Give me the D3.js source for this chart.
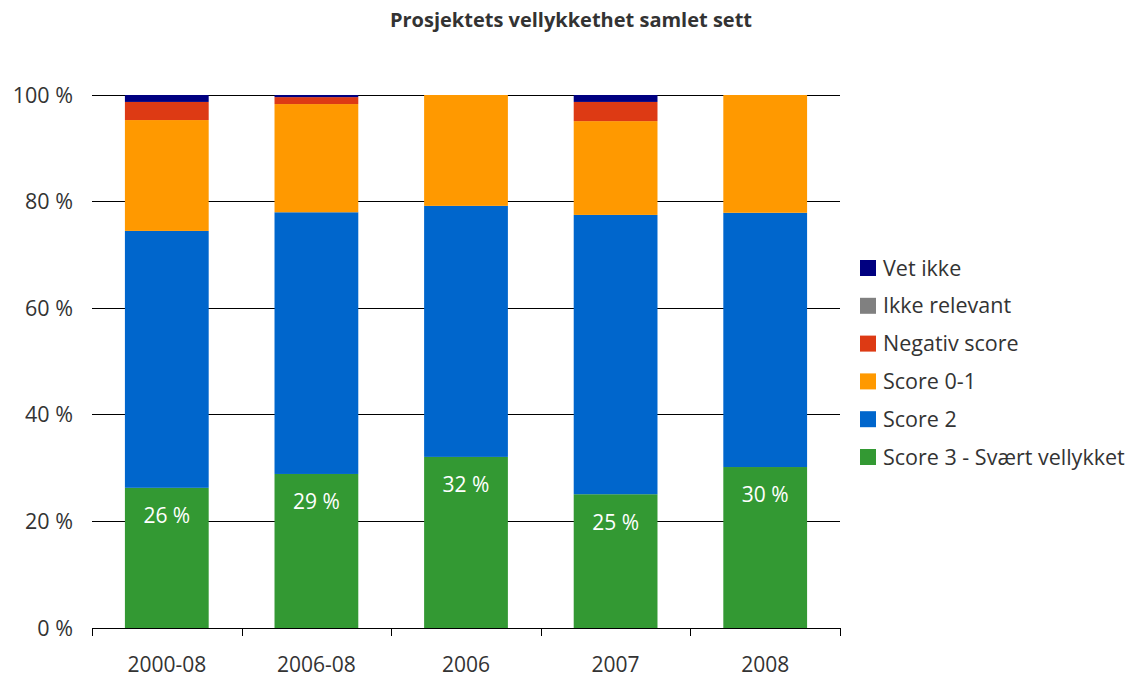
<!DOCTYPE html>
<meta charset="utf-8">
<style>
body { margin: 0; background: #fff; }
text { font-family: "Open Sans", "Noto Sans", sans-serif; fill: #333; }
.grid line { stroke: #000; stroke-width: 1px; shape-rendering: crispEdges; }
</style>
<svg width="1142" height="677"></svg>
<script src="https://d3js.org/d3.v7.min.js"></script>
<script>

var categories = ["2000-08", "2006-08", "2006", "2007", "2008"];
var seriesNames = ["Score 3 - Svært vellykket", "Score 2", "Score 0-1", "Negativ score", "Ikke relevant", "Vet ikke"];
var seriesColors = ["#339933", "#0066cc", "#ff9900", "#dd3a14", "#808080", "#000080"];

// percent per category, bottom to top
var score3   = [26.3, 28.9, 32.1, 25.1, 30.2];
var score2   = [48.2, 49.1, 47.1, 52.4, 47.7];
var score01  = [20.8, 20.3, 20.8, 17.6, 22.1];
var negativ  = [3.4, 1.3, 0, 3.6, 0];
var ikkeRel  = [0, 0, 0, 0, 0];
var vetIkke  = [1.3, 0.4, 0, 1.3, 0];
var greenLabels = ["26 %", "29 %", "32 %", "25 %", "30 %"];
var yTicks = [0, 20, 40, 60, 80, 100];

var svg = d3.select("svg");
var margin = {left: 92, right: 302, top: 95, bottom: 49};
var width = 1142 - margin.left - margin.right,
    height = 677 - margin.top - margin.bottom;

var rows = categories.map(function(c, i) {
  return {cat: c, s0: score3[i], s1: score2[i], s2: score01[i], s3: negativ[i], s4: ikkeRel[i], s5: vetIkke[i]};
});
var keys = ["s0", "s1", "s2", "s3", "s4", "s5"];
var stacked = d3.stack().keys(keys)(rows);

var x = d3.scaleBand().domain(categories).range([0, width]).paddingInner(0.44).paddingOuter(0.22);
var y = d3.scaleLinear().domain([0, 100]).range([height, 0]);

var g = svg.append("g").attr("transform", "translate(" + margin.left + "," + margin.top + ")");

svg.append("text")
    .attr("x", 571).attr("y", 27)
    .attr("text-anchor", "middle")
    .style("font-weight", "bold").style("font-size", "20px")
    .text("Prosjektets vellykkethet samlet sett");

// grid lines
g.append("g").attr("class", "grid")
  .selectAll("line").data(yTicks.slice(1)).enter().append("line")
    .attr("x1", 0).attr("x2", width)
    .attr("y1", function(d) { return y(d); })
    .attr("y2", function(d) { return y(d); });

// y labels
g.append("g").selectAll("text").data(yTicks).enter().append("text")
    .attr("x", -19).attr("y", function(d) { return y(d); })
    .attr("dy", "0.35em").attr("text-anchor", "end")
    .style("font-size", "21.5px")
    .text(function(d) { return d + " %"; });

// bars
g.selectAll(".series").data(stacked).enter().append("g")
    .attr("class", "series")
    .attr("fill", function(d, i) { return seriesColors[i]; })
  .selectAll("rect").data(function(d) { return d; }).enter().append("rect")
    .attr("x", function(d) { return x(d.data.cat); })
    .attr("width", x.bandwidth())
    .attr("y", function(d) { return y(d[1]); })
    .attr("height", function(d) { return y(d[0]) - y(d[1]); });

// labels in green segment
g.selectAll(".lbl").data(rows).enter().append("text")
    .attr("class", "lbl")
    .attr("x", function(d) { return x(d.cat) + x.bandwidth() / 2; })
    .attr("y", function(d) { return y(d.s0) + 28; })
    .attr("dy", "0.35em")
    .attr("text-anchor", "middle")
    .style("fill", "#fff").style("font-size", "21px")
    .text(function(d, i) { return greenLabels[i]; });

// x axis
var xAxis = g.append("g").attr("transform", "translate(0," + height + ")");
xAxis.append("line").attr("x1", 0).attr("x2", width).attr("stroke", "#000").attr("shape-rendering", "crispEdges");
var step = x.step();
xAxis.selectAll(".tk").data(d3.range(categories.length + 1)).enter().append("line")
    .attr("x1", function(d) { return Math.round(d * step) + 0.5; })
    .attr("x2", function(d) { return Math.round(d * step) + 0.5; })
    .attr("y1", 0).attr("y2", 8).attr("stroke", "#000");
xAxis.selectAll("text").data(categories).enter().append("text")
    .attr("x", function(d) { return x(d) + x.bandwidth() / 2; })
    .attr("y", 44).attr("text-anchor", "middle")
    .style("font-size", "21px")
    .text(function(d) { return d; });

// legend, top entry is the last series
var legend = svg.append("g").attr("transform", "translate(860,260)");
var order = d3.range(seriesNames.length).reverse();
var item = legend.selectAll("g").data(order).enter().append("g")
    .attr("transform", function(d, i) { return "translate(0," + (i * 37.8) + ")"; });
item.append("rect").attr("width", 16).attr("height", 16)
    .attr("fill", function(d) { return seriesColors[d]; });
item.append("text").attr("x", 23).attr("y", 8).attr("dy", "0.35em")
    .style("font-size", "21.5px")
    .text(function(d) { return seriesNames[d]; });

</script>
